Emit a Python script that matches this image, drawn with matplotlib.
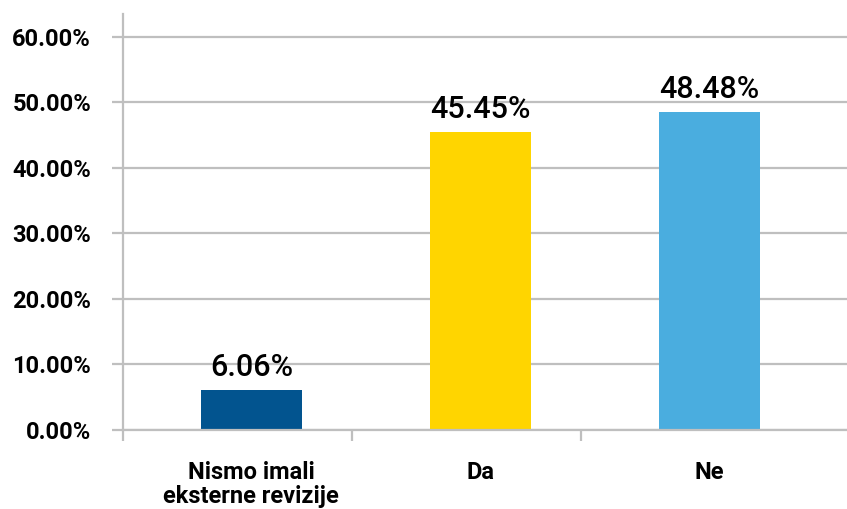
import numpy as np
import matplotlib.pyplot as plt

# Data
categories = ["Nismo imali\neksterne revizije", "Da", "Ne"]
values = [6.06, 45.45, 48.48]
colors = ["#02548F", "#FFD500", "#4AADDF"]
yticks = [0, 10, 20, 30, 40, 50, 60]

grid_col = "#BFBFBF"
plt.rcParams['font.family'] = ['Roboto', 'DejaVu Sans']

fig = plt.figure(figsize=(8.47, 5.09), dpi=100)
ax = fig.add_axes([0.1452, 0.1552, 0.8548, 0.8173])

x = np.arange(len(values))
bars = ax.bar(x, values, width=0.44, color=colors, zorder=3)

# value labels
for xi, v in zip(x, values):
    ax.annotate(f"{v:.2f}%", (xi, v), xytext=(0, 6), textcoords="offset points",
                ha="center", va="bottom", fontsize=22, fontweight="medium", color="black")

ax.set_xlim(-0.55, 2.6)
ax.set_ylim(0, 63.5)
ax.set_yticks(yticks)
ax.set_yticklabels([f"{t:.2f}%" for t in yticks], fontsize=17, fontweight="bold")
ax.yaxis.grid(True, color=grid_col, linewidth=1.6, zorder=0)

# category labels at bar centres, tick marks at category boundaries
ax.set_xticks(x)
ax.set_xticklabels(categories, fontsize=17, fontweight="bold", linespacing=1.1)
ax.tick_params(axis="x", length=0, pad=22)
ax.set_xticks(x - 0.56, minor=True)
ax.tick_params(axis="x", which="minor", length=8, width=1.6, color=grid_col)
ax.tick_params(axis="y", length=8, width=1.6, color=grid_col, pad=15)

for s in ["top", "right"]:
    ax.spines[s].set_visible(False)
for s in ["left", "bottom"]:
    ax.spines[s].set_color(grid_col)
    ax.spines[s].set_linewidth(1.6)
ax.spines["bottom"].set_zorder(4)

fig.savefig("out.png", dpi=100)
